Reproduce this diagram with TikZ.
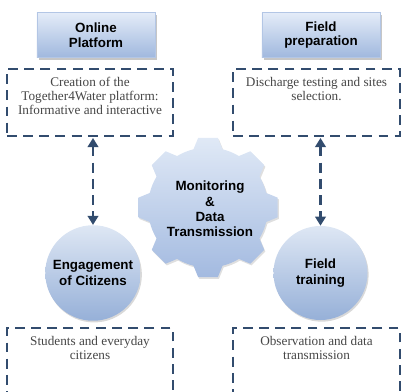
\documentclass[tikz,border=0pt]{standalone}
\usepackage{fontspec}
\setmainfont{Liberation Serif}
\newfontfamily\hdrfont{Liberation Sans}
\usepackage{xcolor}
\usetikzlibrary{arrows.meta, shadows, positioning}

\definecolor{dashblue}{RGB}{50,76,110}
\definecolor{hdrtop}{RGB}{228,236,248}
\definecolor{hdrbot}{RGB}{160,184,222}
\definecolor{balltop}{RGB}{222,231,244}
\definecolor{ballbot}{RGB}{150,176,216}
\definecolor{geartop}{RGB}{224,233,246}
\definecolor{gearbot}{RGB}{163,186,224}
\definecolor{bodygray}{RGB}{70,70,70}

\begin{document}
\begin{tikzpicture}[x=0.025cm, y=0.025cm,
hdr/.style={rectangle, draw=hdrbot!80, line width=0.4pt, top color=hdrtop, bottom color=hdrbot,
minimum width=2.95cm, minimum height=1.125cm, align=center, font=\hdrfont\bfseries\fontsize{9.5}{10.5}\selectfont,
drop shadow={opacity=0.45, shadow xshift=1.2pt, shadow yshift=-1.6pt}},
dbox/.style={rectangle, draw=dashblue, line width=1.8pt, dash pattern=on 7pt off 4.5pt, fill=white},
dtxt/.style={anchor=north, yshift=-4.5pt, inner sep=2pt, align=center, text=bodygray,
font=\fontsize{9.4}{9.8}\selectfont},
ball/.style={circle, draw=none, top color=balltop, bottom color=ballbot, minimum size=2.35cm,
align=center, font=\hdrfont\bfseries\fontsize{9.5}{10.8}\selectfont,
drop shadow={opacity=0.3, shadow xshift=0.8pt, shadow yshift=-1.2pt}},
gear/.style={draw=none, top color=geartop, bottom color=gearbot,
drop shadow={opacity=0.25, shadow xshift=0.8pt, shadow yshift=-1.2pt}},
dblarr/.style={{Triangle[width=7.5pt,length=6.5pt]}-{Triangle[width=7.5pt,length=6.5pt]}, draw=dashblue,
line width=1.8pt, dash pattern=on 7pt off 4.5pt, shorten <=0.5pt}]
\useasboundingbox (0,0) rectangle (401,392);
\clip (0,0) rectangle (401,392);

\node[hdr] (onlineP) at (96,357) {Online\\Platform};
\node[hdr] (fieldP) at (321,357) {Field\\preparation};

\node[dbox, minimum width=4.15cm, minimum height=1.675cm] (descOnline) at (90,289.5) {};
\node[dtxt] (txtOnline) at (descOnline.north) {Creation of the\\Together4Water platform:\\Informative and interactive};
\node[dbox, minimum width=4.175cm, minimum height=1.675cm] (descField) at (316.5,289.5) {};
\node[dtxt] (txtField) at (descField.north) {Discharge testing and sites\\selection.};

% central gear
\begin{scope}[shift={(208,184.5)}]
\path[gear] (76:1.5cm) \foreach \a in {90,135,...,405} {
  -- (\a-14:1.5cm) -- (\a-8:1.76cm) -- (\a+8:1.76cm) -- (\a+14:1.5cm)
  arc[start angle=\a+14, end angle=\a+31, radius=1.5cm] } -- cycle;
\end{scope}
\node[align=center, font=\hdrfont\bfseries\fontsize{9.5}{11}\selectfont] (monitor) at (210,183)
{Monitoring\\\&\\Data\\Transmission};

\node[ball] (citizens) at (93,119) {Engagement\\of Citizens};
\node[ball] (training) at (320.5,119) {Field\\training};

\draw[dblarr] (citizens.north |- descOnline.south) -- (citizens.north);
\draw[dblarr] (training.north |- descField.south) -- (training.north);

\node[dbox, minimum width=4.15cm, minimum height=2.25cm] (descCitizen) at (90,19) {};
\node[dtxt] (txtCitizen) at (descCitizen.north) {Students and everyday\\citizens};
\node[dbox, minimum width=4.175cm, minimum height=2.25cm] (descTraining) at (316.5,19) {};
\node[dtxt] (txtTraining) at (descTraining.north) {Observation and data\\transmission};
\end{tikzpicture}
\end{document}
